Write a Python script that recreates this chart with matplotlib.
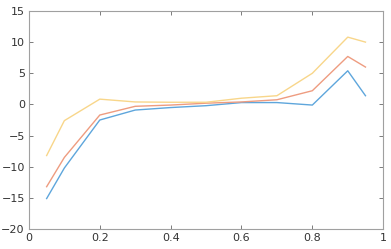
import matplotlib
matplotlib.use("Agg")
import matplotlib.pyplot as plt

x = [0.05, 0.1, 0.2, 0.3, 0.4, 0.5, 0.6, 0.7, 0.8, 0.9, 0.95]
blue = [-15.1, -10.2, -2.5, -0.9, -0.5, -0.2, 0.3, 0.3, -0.1, 5.4, 1.4]
orange = [-13.2, -8.5, -1.7, -0.3, -0.1, 0.2, 0.4, 0.75, 2.2, 7.7, 6.0]
yellow = [-8.2, -2.6, 0.85, 0.4, 0.35, 0.35, 1.0, 1.4, 5.0, 10.8, 10.0]

xticks = [0, 0.2, 0.4, 0.6, 0.8, 1]
xticklabels = ["0", "0.2", "0.4", "0.6", "0.8", "1"]
yticks = [-20, -15, -10, -5, 0, 5, 10, 15]

fig = plt.figure(figsize=(3.91, 2.49), dpi=100)
ax = fig.add_axes([0.074, 0.080, 0.906, 0.876])
ax.plot(x, blue, color="#5ea6dc", lw=1.0)
ax.plot(x, orange, color="#ee9c80", lw=1.0)
ax.plot(x, yellow, color="#f8d68a", lw=1.0)
ax.set_xlim(0, 1)
ax.set_ylim(-20, 15)
ax.set_xticks(xticks)
ax.set_xticklabels(xticklabels)
ax.set_yticks(yticks)
ax.tick_params(direction="in", length=3, width=0.6, colors="#666666",
               labelcolor="#333333", labelsize=8, top=True, right=True, pad=3)
for s in ax.spines.values():
    s.set_color("#a0a0a0")
    s.set_linewidth(0.8)
fig.savefig("out.png", dpi=100)
